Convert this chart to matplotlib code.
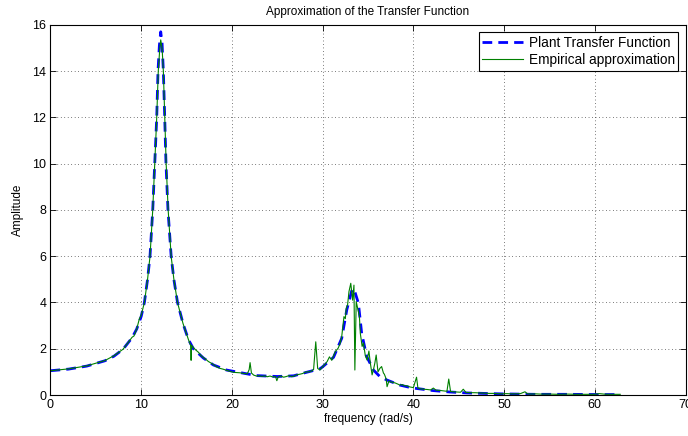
import numpy as np
import matplotlib
matplotlib.use("Agg")
import matplotlib.pyplot as plt

plt.rcParams['font.family'] = ['Liberation Sans', 'DejaVu Sans']

# plant transfer function
plant_w = [0, 2, 4, 6, 7, 8, 9, 9.5, 10, 10.35, 10.7, 10.97, 11.27, 11.49, 11.71,
           11.85, 12.0, 12.15, 12.3, 12.44, 12.59, 12.73, 12.95, 13.3, 13.6, 14.0,
           14.6, 15.2, 15.75, 16.85, 17.95, 19.4, 20.9, 22.7, 25.0, 26.8, 28.2,
           29.7, 30.0, 31.2, 32.1, 32.66, 33.2, 33.35, 33.6, 33.94, 34.3, 34.86,
           35.6, 36.3, 37.07, 38.5, 39.6, 40.0, 42.2, 44.0, 45.9, 49.6, 53.3, 57.0,
           60.6, 62.8]
plant_amp = [1.05, 1.12, 1.25, 1.48, 1.68, 1.98, 2.48, 2.85, 3.4, 4.0, 5.0, 6.0, 8.0,
             10.0, 12.0, 14.0, 15.1, 15.7, 15.2, 14.0, 12.0, 10.0, 8.0, 6.0, 5.0, 4.0,
             3.1, 2.4, 2.0, 1.6, 1.3, 1.08, 0.97, 0.84, 0.8, 0.83, 0.98, 1.13, 1.22,
             1.63, 2.45, 3.68, 4.5, 4.6, 4.4, 3.97, 2.67, 1.66, 1.08, 0.8, 0.65, 0.43,
             0.33, 0.3, 0.19, 0.13, 0.09, 0.05, 0.03, 0.03, 0.02, 0.02]

# empirical approximation (noisy measurement)
emp_w = [0, 2, 4, 6, 7, 8, 9, 9.2, 9.5, 9.8, 10, 10.35, 10.7, 10.97, 11.27, 11.49,
         11.71, 11.88, 12.05, 12.15, 12.3, 12.44, 12.6, 12.75, 12.97, 13.3, 13.6,
         14.0, 14.6, 15.2, 15.45, 15.5, 15.55, 15.75, 16.0, 16.3, 16.6, 16.85, 17.1,
         17.4, 17.7, 17.95, 18.3, 18.7, 19.0, 19.4, 19.8, 20.2, 20.6, 20.9, 21.3,
         21.7, 21.9, 22.0, 22.15, 22.4, 22.7, 23.0, 23.3, 23.6, 23.9, 24.2, 24.5,
         24.8, 24.95, 25.1, 25.4, 25.7, 26.0, 26.3, 26.6, 26.9, 27.2, 27.5, 27.8,
         28.1, 28.4, 28.7, 29.0, 29.24, 29.45, 29.7, 30.0, 30.3, 30.5, 30.75, 31.0,
         31.2, 31.4, 31.7, 31.9, 32.1, 32.35, 32.5, 32.6, 32.75, 32.9, 33.1, 33.3,
         33.45, 33.55, 33.7, 33.9, 34.05, 34.15, 34.35, 34.5, 34.7, 34.9, 35.1,
         35.25, 35.45, 35.6, 35.75, 35.9, 36.1, 36.3, 36.5, 36.7, 36.8, 37.0, 37.1,
         37.3, 37.4, 37.7, 38.0, 38.3, 38.5, 38.8, 39.0, 39.3, 39.6, 40.0, 40.35,
         40.5, 40.8, 41.1, 41.5, 41.9, 42.2, 42.5, 42.9, 43.3, 43.7, 43.9, 44.1,
         44.4, 44.8, 45.2, 45.5, 45.8, 46.3, 46.8, 47.3, 47.8, 48.3, 48.8, 49.3,
         49.8, 50.3, 50.8, 51.3, 51.8, 52.3, 52.6, 53.0, 53.5, 54, 55, 56, 57, 58,
         59, 60, 60.5, 61, 61.5, 62, 62.8]
emp_amp = [1.05, 1.13, 1.26, 1.49, 1.7, 1.98, 2.5, 2.55, 2.85, 3.3, 3.45, 4.0, 5.0,
           6.0, 8.0, 10.0, 12.0, 14.0, 15.0, 15.35, 15.0, 14.0, 12.0, 10.0, 8.0, 6.0,
           5.0, 4.0, 3.1, 2.4, 2.15, 1.5, 2.15, 2.05, 1.95, 1.85, 1.7, 1.62, 1.55,
           1.45, 1.38, 1.32, 1.22, 1.15, 1.12, 1.07, 1.02, 0.98, 0.97, 0.96, 0.93,
           0.92, 1.1, 1.4, 0.95, 0.86, 0.82, 0.84, 0.8, 0.83, 0.79, 0.82, 0.78, 0.8,
           0.62, 0.78, 0.82, 0.77, 0.8, 0.84, 0.79, 0.83, 0.88, 0.9, 0.93, 0.99, 1.0,
           1.02, 1.1, 2.3, 1.15, 1.08, 1.23, 1.35, 1.45, 1.65, 1.5, 1.7, 1.88, 2.02,
           2.2, 2.52, 3.39, 3.3, 3.75, 3.9, 4.47, 4.83, 4.1, 4.75, 1.08, 4.04, 3.68,
           3.4, 2.67, 2.1, 2.25, 1.7, 1.51, 1.9, 1.4, 0.87, 1.1, 1.37, 1.73, 1.0,
           1.15, 1.23, 0.95, 0.9, 0.7, 0.36, 0.6, 0.58, 0.55, 0.52, 0.47, 0.43, 0.45,
           0.4, 0.4, 0.35, 0.32, 0.77, 0.3, 0.27, 0.25, 0.24, 0.22, 0.3, 0.21, 0.2,
           0.18, 0.16, 0.69, 0.15, 0.14, 0.13, 0.12, 0.25, 0.11, 0.1, 0.1, 0.09,
           0.08, 0.07, 0.07, 0.06, 0.05, 0.06, 0.05, 0.05, 0.06, 0.14, 0.05, 0.04,
           0.05, 0.04, 0.04, 0.03, 0.04, 0.03, 0.03, 0.03, 0.06, 0.04, 0.03, 0.03,
           0.03]

fig = plt.figure(figsize=(6.88, 4.36), dpi=100)
ax = fig.add_axes([0.0734, 0.094, 0.923, 0.849])

ax.plot(plant_w, plant_amp, '--', color=(0, 0, 1), lw=2.0, dashes=(3.5, 2.2),
        label='Plant Transfer Function')
ax.plot(emp_w, emp_amp, '-', color=(0, 0.5, 0), lw=0.8,
        label='Empirical approximation')

ax.set_xlim(0, 70)
ax.set_ylim(0, 16)
ax.set_xticks(np.arange(0, 71, 10))
ax.set_yticks(np.arange(0, 17, 2))
ax.tick_params(direction='in', top=True, right=True, length=4, width=0.6,
               labelsize=9, pad=3)
ax.grid(True, color='k', linestyle=(0, (1, 4)), linewidth=0.5)
for s in ax.spines.values():
    s.set_linewidth(0.8)

ax.set_title('Approximation of the Transfer Function', fontsize=8.5, pad=7)
ax.set_xlabel('frequency (rad/s)', fontsize=8.5, labelpad=1)
ax.set_ylabel('Amplitude', fontsize=8.5, labelpad=6)

leg = ax.legend(loc='upper right', fontsize=9.8, fancybox=False, framealpha=1,
                edgecolor='k', borderaxespad=0.55, handlelength=3.0,
                borderpad=0.25, labelspacing=0.25, handletextpad=0.4)
leg.get_frame().set_linewidth(0.8)

fig.savefig('out.png', dpi=100)
